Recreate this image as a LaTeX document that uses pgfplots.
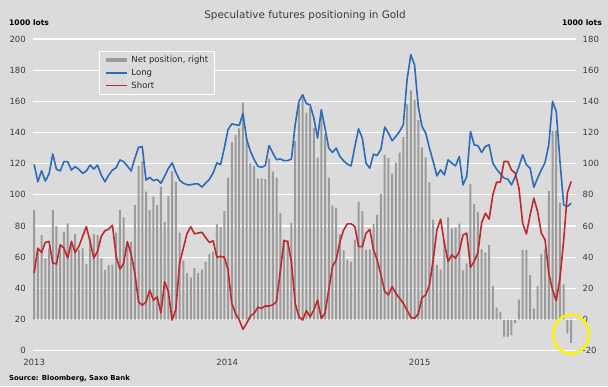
\documentclass[border=0pt]{standalone}
\usepackage{fontspec}
\setmainfont{DejaVu Sans}
\usepackage{pgfplots}
\pgfplotsset{compat=1.18}
\usepackage{pgfplotstable}
\definecolor{bgc}{RGB}{219,219,219}
\definecolor{longc}{RGB}{44,106,186}
\definecolor{shortc}{RGB}{192,40,42}
\definecolor{barc}{RGB}{155,155,155}
\definecolor{txtc}{RGB}{60,60,60}

\pgfplotstableread{
i long short net
0 119.6 49.7 70.2
1 108.4 65.8 44.5
2 115.5 63.0 54.2
3 108.9 69.5 39.2
4 113.4 70.1 45.6
5 126.2 56.2 70.2
6 116.4 55.7 60.0
7 115.3 68.0 47.8
8 121.3 65.8 56.3
9 121.3 59.4 61.7
10 115.9 70.1 48.8
11 118.1 63.0 54.8
12 116.4 66.9 44.5
13 113.8 73.3 45.6
14 115.3 79.7 35.5
15 119.1 70.1 52.0
16 116.6 59.4 54.8
17 119.1 63.7 54.2
18 112.7 73.3 39.2
19 108.4 77.0 31.7
20 112.7 78.0 34.9
21 115.9 80.4 35.3
22 117.4 60.5 55.7
23 122.4 52.3 70.2
24 121.3 56.0 65.5
25 118.5 70.0 48.8
26 115.3 62.0 50.0
27 123.4 50.0 73.4
28 130.5 31.3 98.5
29 130.9 29.2 101.7
30 109.5 31.3 82.0
31 111.2 38.8 70.2
32 109.1 32.4 78.8
33 109.9 34.6 73.4
34 107.4 24.3 85.2
35 112.0 44.2 62.7
36 117.0 37.8 79.4
37 120.5 19.6 95.0
38 114.5 26.4 88.4
39 109.5 56.0 55.7
40 107.5 65.6 38.0
41 106.5 75.2 30.0
42 106.5 79.5 27.0
43 107.0 75.0 33.0
44 107.0 75.5 30.0
45 105.0 76.0 32.0
46 107.5 72.5 37.0
47 110.0 69.5 42.0
48 114.0 70.5 43.5
49 120.5 60.0 61.0
50 119.4 60.5 59.5
51 130.0 60.0 69.6
52 141.9 51.9 91.0
53 145.5 30.4 113.7
54 145.0 24.0 118.4
55 144.6 19.7 122.7
56 152.2 13.7 139.2
57 135.5 17.6 116.7
58 128.0 22.3 100.2
59 122.6 24.0 98.5
60 118.3 27.9 90.6
61 117.7 27.2 90.6
62 118.8 28.7 90.1
63 131.6 28.7 103.4
64 126.9 29.4 94.9
65 122.6 31.5 91.0
66 123.0 50.9 68.5
67 122.0 70.5 51.4
68 122.0 70.0 51.0
69 123.0 56.6 62.0
70 145.0 30.4 114.6
71 160.0 21.8 138.2
72 164.2 19.7 144.5
73 158.5 25.7 132.8
74 157.8 21.8 136.0
75 149.3 26.1 123.2
76 136.4 32.5 103.9
77 154.6 20.8 133.8
78 142.8 24.0 118.8
79 130.0 39.0 91.0
80 127.2 54.0 73.2
81 130.0 58.2 71.8
82 124.6 70.0 54.6
83 121.8 77.5 44.3
84 119.7 81.4 38.3
85 118.6 81.4 37.2
86 131.0 79.7 51.3
87 142.4 66.8 75.6
88 136.4 66.8 69.6
89 120.3 75.4 44.9
90 117.1 77.9 45.0
91 126.1 64.7 61.4
92 125.3 58.2 67.1
93 129.3 48.6 80.7
94 143.5 37.9 105.6
95 139.6 35.8 103.8
96 134.7 41.1 93.6
97 137.5 36.8 100.7
98 140.7 33.6 107.1
99 145.0 30.4 117.0
100 173.9 26.1 138.0
101 189.9 21.4 147.0
102 183.5 20.8 141.0
103 156.7 23.6 128.0
104 143.9 34.0 110.5
105 139.6 35.8 104.0
106 130.0 42.2 88.0
107 121.4 58.2 64.0
108 112.2 77.5 35.0
109 116.0 84.4 32.0
110 112.8 68.9 50.0
111 122.5 57.2 65.5
112 120.3 61.5 58.5
113 118.6 59.3 59.0
114 124.6 63.6 61.5
115 106.4 74.3 31.5
116 111.8 75.4 36.0
117 140.7 53.5 87.0
118 132.1 57.2 74.0
119 131.5 63.0 69.0
120 127.2 82.2 45.0
121 131.0 88.2 43.0
122 132.1 84.4 47.8
123 120.3 100.0 21.4
124 116.5 108.1 7.7
125 113.5 108.1 4.9
126 110.7 121.4 -11.0
127 110.1 121.4 -11.0
128 106.4 116.0 -10.0
129 111.8 113.9 -2.5
130 118.2 104.3 12.8
131 125.7 81.8 44.5
132 119.3 74.9 44.5
133 117.1 87.2 28.5
134 104.9 97.9 7.0
135 110.7 89.3 21.4
136 116.0 75.4 42.0
137 120.8 71.1 45.0
138 132.1 49.7 82.4
139 160.0 39.0 121.0
140 153.5 32.1 121.4
141 121.4 46.5 74.9
142 93.6 71.1 22.5
143 92.5 101.5 -9.0
144 94.6 108.6 -15.0
}\datatable

\pgfplotsset{
  common/.style={
    at={(33bp,35.3bp)}, anchor=south west,
    scale only axis, width=543bp, height=311.7bp,
    xmin=-0.3, xmax=145.3,
    axis line style={draw=none},
    major tick style={draw=none}, minor tick style={draw=none},
    tick label style={font=\fontsize{8.5bp}{10bp}\selectfont, text=txtc, inner sep=0pt},
  }
}

\begin{document}
\begin{tikzpicture}[x=1bp,y=1bp]
\fill[bgc] (0,0) rectangle (608,386);

\begin{axis}[common,
  ymin=-20, ymax=180,
  ytick={-20,0,20,40,60,80,100,120,140,160,180},
  yticklabels={-20,0,20,40,60,80,100,120,140,160,180},
  yticklabel pos=right,
  yticklabel style={anchor=west, xshift=6.5bp},
  ymajorgrids, grid style={white, line width=1.1bp},
  xtick={0,51.8,103.4}, xticklabels={2013,2014,2015},
  xticklabel style={anchor=north, yshift=-8bp},
]
\addplot[ybar, bar width=2bp, bar shift=0pt, fill=barc, draw=none] table[x=i,y=net]{\datatable};
\end{axis}

\begin{axis}[common,
  ymin=0, ymax=200,
  ytick={0,20,40,60,80,100,120,140,160,180,200},
  yticklabels={0,20,40,60,80,100,120,140,160,180,200},
  yticklabel pos=left,
  yticklabel style={anchor=east, xshift=-7bp},
  xtick=\empty,
  legend image code/.code={\draw[#1] (0bp,0bp) -- (21bp,0bp);},
  legend cell align=left,
  legend style={at={(0.1215,0.9615)}, anchor=north west,
    fill=bgc, draw=white, line width=1bp,
    font=\fontsize{8.5bp}{10bp}\selectfont, text=black!85,
    inner xsep=4bp, inner ysep=2bp, row sep=0pt,
    nodes={inner sep=2.5bp}},
]
\addlegendimage{line width=4.5bp, barc}
\addlegendentry{Net position, right}
\addplot[longc, line width=1.6bp, line join=round] table[x=i,y=long]{\datatable};
\addlegendentry{Long}
\addplot[shortc, line width=1.6bp, line join=round] table[x=i,y=short]{\datatable};
\addlegendentry{Short}
\end{axis}

\node[anchor=base, font=\fontsize{10.4bp}{12bp}\selectfont, text=txtc] at (305,367.7) {Speculative futures positioning in Gold};
\node[anchor=base west, inner sep=0pt, font=\fontsize{7.6bp}{9bp}\selectfont\bfseries] at (9,361) {1000 lots};
\node[anchor=base east, inner sep=0pt, font=\fontsize{7.6bp}{9bp}\selectfont\bfseries] at (602,361) {1000 lots};
\node[anchor=base west, inner sep=0pt, font=\fontsize{6.9bp}{8bp}\selectfont\bfseries] at (9,6) {Source: Bloomberg, Saxo Bank};
\draw[yellow, line width=2.5bp] (571,51.8) ellipse [x radius=17.8, y radius=19.5];

\pgfresetboundingbox
\path (0,0) rectangle (608,386);
\end{tikzpicture}
\end{document}
